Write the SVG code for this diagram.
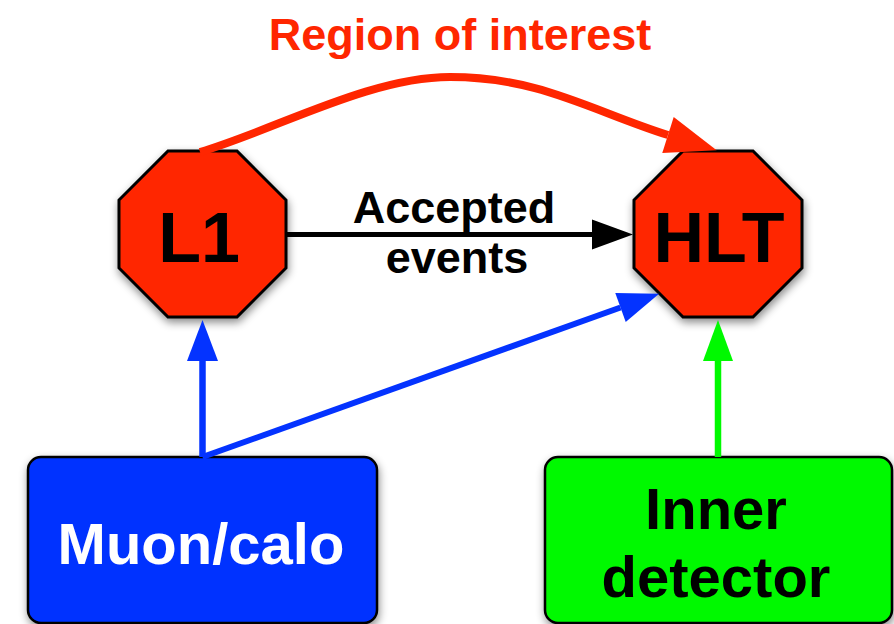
<svg xmlns="http://www.w3.org/2000/svg" width="894" height="624" viewBox="0 0 894 624">
  <style>
    text { font-family: "Liberation Sans", Arial, Helvetica, sans-serif; font-weight: bold; text-anchor: middle; }
    .oct { fill: #FF2600; stroke: #000; stroke-width: 3; stroke-linejoin: miter; }
    .box { stroke: #000; stroke-width: 2.5; }
    .big { font-size: 70px; fill: #000; }
    .boxlabel { font-size: 58px; }
    .edgelabel { font-size: 45px; fill: #000; }
    .roi { font-size: 45px; fill: #FF2600; }
    .line { fill: none; stroke-linecap: butt; }
  </style>
  <defs>
    <filter id="shadow" x="-20%" y="-20%" width="140%" height="140%">
      <feDropShadow dx="1" dy="4" stdDeviation="4" flood-color="#000" flood-opacity="0.45"/>
    </filter>
    <marker id="headBlue" markerUnits="userSpaceOnUse" markerWidth="42" markerHeight="32" refX="0" refY="15.5" orient="auto" overflow="visible">
      <path d="M0,0 L41,15.5 L0,31 Z" fill="#0433FF"/>
    </marker>
    <marker id="headGreen" markerUnits="userSpaceOnUse" markerWidth="42" markerHeight="32" refX="0" refY="15" orient="auto" overflow="visible">
      <path d="M0,0 L41,15 L0,30 Z" fill="#00F900"/>
    </marker>
    <marker id="headBlack" markerUnits="userSpaceOnUse" markerWidth="42" markerHeight="32" refX="0" refY="15" orient="auto" overflow="visible">
      <path d="M0,0 L41,15 L0,30 Z" fill="#000"/>
    </marker>
    <marker id="headRed" markerUnits="userSpaceOnUse" markerWidth="52" markerHeight="40" refX="0" refY="19" orient="auto" overflow="visible">
      <path d="M0,0 L51,19 L0,38 Z" fill="#FF2600"/>
    </marker>
  </defs>

  <!-- trigger levels -->
  <g id="node-l1" filter="url(#shadow)">
    <polygon class="oct" points="168,151 237,151 286,200 286,268 237,317 168,317 119,268 119,200"/>
    <text class="big" x="199" y="262">L1</text>
  </g>
  <g id="node-hlt" filter="url(#shadow)">
    <polygon class="oct" points="683,151 753,151 802,200 802,268 753,317 683,317 634,268 634,200"/>
    <text class="big" x="719" y="262">HLT</text>
  </g>

  <!-- detector inputs -->
  <g id="node-muon" filter="url(#shadow)">
    <rect class="box" x="28" y="457" width="349" height="166" rx="13" fill="#0433FF"/>
    <text class="boxlabel" x="201" y="564" fill="#fff">Muon/calo</text>
  </g>
  <g id="node-inner" filter="url(#shadow)">
    <rect class="box" x="545" y="457" width="347" height="166" rx="13" fill="#00F900"/>
    <text class="boxlabel" x="716" y="529" fill="#000">Inner</text>
    <text class="boxlabel" x="716" y="597" fill="#000">detector</text>
  </g>

  <!-- connectors -->
  <g id="connectors">
    <path class="line" d="M202.5,457 L202.5,361" stroke="#0433FF" stroke-width="6.5" marker-end="url(#headBlue)"/>
    <path class="line" d="M202.5,457 L620.5,307.5" stroke="#0433FF" stroke-width="6" marker-end="url(#headBlue)"/>
    <path class="line" d="M718,457 L718,361" stroke="#00F900" stroke-width="6.5" marker-end="url(#headGreen)"/>
    <path class="line" d="M286,234.5 L592,234.5" stroke="#000" stroke-width="5" marker-end="url(#headBlack)"/>
    <path class="line" d="M200,152 C277,129 370,77 450,77 C540,77 592,111 668,135" stroke="#FF2600" stroke-width="8" stroke-linecap="round" marker-end="url(#headRed)"/>
    <text class="edgelabel" x="454" y="223">Accepted</text>
    <text class="edgelabel" x="457" y="273">events</text>
    <text class="roi" x="460" y="50">Region of interest</text>
  </g>
</svg>
